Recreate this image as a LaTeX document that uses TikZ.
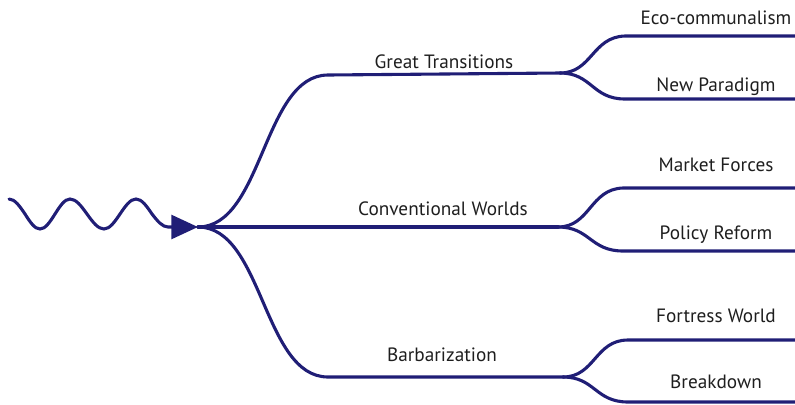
\documentclass[tikz,border=0pt]{standalone}
\usepackage{fontspec}
\setmainfont{PT Sans}
\usepackage{xcolor}
\usetikzlibrary{arrows.meta}
\definecolor{navyline}{RGB}{32,30,118}
\definecolor{labelgray}{RGB}{30,30,30}

\begin{document}
\begin{tikzpicture}[
  x=0.025cm, y=-0.025cm,
  every node/.style={font=\fontsize{13.7}{16}\selectfont, text=labelgray},
  branch/.style={draw=navyline, line width=2.2pt, line cap=round},
  lbl/.style={anchor=base, inner sep=0pt}
]
\useasboundingbox (0,0) rectangle (795,404);

% ---- Junctions ----
\coordinate (root) at (198,227);
\coordinate (gt) at (560,73);
\coordinate (cw) at (558,227);
\coordinate (bb) at (563,377);
\coordinate (gtA) at (795,36);
\coordinate (gtB) at (795,99);
\coordinate (cwA) at (795,188);
\coordinate (cwB) at (795,251);
\coordinate (bbA) at (795,340);
\coordinate (bbB) at (795,402);

% ---- Wave into the root ----
\draw[branch, -{Triangle[length=19pt,width=17pt]}] (9,199)
  cos (25,214) sin (40,229) cos (55,214) sin (70,199)
  cos (87,214) sin (104,229) cos (120,214) sin (136,199)
  cos (152,214) sin (168,227) -- (root);

% ---- Main branches ----
\draw[branch] (root) .. controls (263,227) and (263,75) .. (328,75) -- (gt);
\draw[branch] (root) -- (cw);
\draw[branch] (root) .. controls (263,227) and (263,377) .. (328,377) -- (bb);

% ---- Sub-branches ----
\draw[branch] (gt) .. controls (592,73) and (592,37) .. (625,36) -- (gtA);
\draw[branch] (gt) .. controls (592,73) and (592,99) .. (625,99) -- (gtB);
\draw[branch] (cw) .. controls (590,227) and (590,189) .. (623,188) -- (cwA);
\draw[branch] (cw) .. controls (590,227) and (590,251) .. (623,251) -- (cwB);
\draw[branch] (bb) .. controls (595,377) and (595,340) .. (628,340) -- (bbA);
\draw[branch] (bb) .. controls (595,377) and (595,402) .. (628,402) -- (bbB);

% ---- Labels ----
\node[lbl] (gtL) at (444,68) {Great Transitions};
\node[lbl] (cwL) at (443,215) {Conventional Worlds};
\node[lbl] (bbL) at (442,361) {Barbarization};
\node[lbl] (ecoL) at (716,24) {Eco-communalism};
\node[lbl] (npL) at (716,91) {New Paradigm};
\node[lbl] (mfL) at (716,171) {Market Forces};
\node[lbl] (prL) at (716,239) {Policy Reform};
\node[lbl] (fwL) at (716,322) {Fortress World};
\node[lbl] (bdL) at (716,388) {Breakdown};

\end{tikzpicture}
\end{document}
